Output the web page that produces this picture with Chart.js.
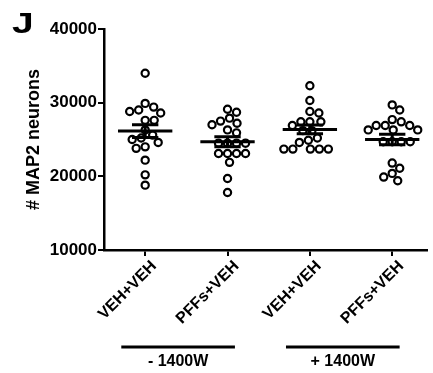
<!DOCTYPE html>
<html>
<head>
<style>
  html, body { margin: 0; padding: 0; background: #fff; }
  #wrap { position: relative; width: 433px; height: 373px; }
</style>
</head>
<body>
<div id="wrap"><canvas id="c" width="433" height="373"></canvas></div>
<script src="https://cdn.jsdelivr.net/npm/chart.js@4/dist/chart.umd.min.js"></script>
<script>
    // groups along the x axis
    const categories = ['VEH+VEH', 'PFFs+VEH', 'VEH+VEH', 'PFFs+VEH'];
    const bracketLabels = ['- 1400W', '+ 1400W'];
    const yTicks = [10000, 20000, 30000, 40000];

    // # MAP2 neurons per well
    const vehVehMinus = [34000, 29400, 29000, 29900, 28600, 28800, 27600, 27600, 26300, 25600,
                         25200, 24600, 23800, 24000, 25000, 22200, 20200, 18800];
    const pffVehMinus = [28700, 29100, 27900, 27200, 27000, 27500, 26300, 25900, 24500, 24500,
                         24500, 24500, 23100, 23100, 23100, 23100, 21900, 19700, 17800];
    const vehVehPlus  = [32300, 30300, 28800, 28600, 27400, 27400, 27400, 26900, 26200, 26200,
                         24900, 24600, 25200, 23700, 23700, 23700, 23700, 23700];
    const pffVehPlus  = [29700, 29000, 27400, 27700, 26900, 26900, 26300, 26300, 26300, 26900,
                         24700, 24700, 24700, 24700, 21800, 21100, 20400, 19900, 19400];

    const groups = [vehVehMinus, pffVehMinus, vehVehPlus, pffVehPlus];

    function mean(a){ return a.reduce((s, v) => s + v, 0) / a.length; }
    function sem(a){
        let m = mean(a);
        let sd = Math.sqrt(a.reduce((s, v) => s + (v - m) ** 2, 0) / (a.length - 1));
        return sd / Math.sqrt(a.length);
    }

    const FONT = '"Liberation Sans", Arial, sans-serif';

    // mean + SEM bars, group brackets and the panel letter
    const extras = {
        id: 'extras',
        afterDatasetsDraw(chart){
            const ctx = chart.ctx, x = chart.scales.x, y = chart.scales.y;
            ctx.save();
            ctx.strokeStyle = '#000';
            ctx.lineWidth = 3;
            groups.forEach((g, i) => {
                let m = mean(g), e = sem(g);
                let ym = y.getPixelForValue(m), yt = y.getPixelForValue(m + e), yb = y.getPixelForValue(m - e);
                ctx.beginPath();
                ctx.moveTo(x.getPixelForValue(i - 0.33), ym);
                ctx.lineTo(x.getPixelForValue(i + 0.33), ym);
                ctx.moveTo(x.getPixelForValue(i), yt);
                ctx.lineTo(x.getPixelForValue(i), yb);
                ctx.moveTo(x.getPixelForValue(i - 0.16), yt);
                ctx.lineTo(x.getPixelForValue(i + 0.16), yt);
                ctx.moveTo(x.getPixelForValue(i - 0.16), yb);
                ctx.lineTo(x.getPixelForValue(i + 0.16), yb);
                ctx.stroke();
            });
            ctx.restore();
        },
        afterDraw(chart){
            const ctx = chart.ctx, x = chart.scales.x;
            ctx.save();
            ctx.fillStyle = '#000';
            ctx.strokeStyle = '#000';
            ctx.lineWidth = 3;
            ctx.font = 'bold 16px ' + FONT;
            ctx.textAlign = 'center';
            ctx.textBaseline = 'middle';
            bracketLabels.forEach((lab, k) => {
                let a = x.getPixelForValue(2 * k - 0.29), b = x.getPixelForValue(2 * k + 1.09);
                ctx.beginPath();
                ctx.moveTo(a, 347);
                ctx.lineTo(b, 347);
                ctx.stroke();
                ctx.fillText(lab, (a + b) / 2, 362);
            });
            ctx.font = 'bold 30px ' + FONT;
            ctx.textAlign = 'left';
            ctx.textBaseline = 'alphabetic';
            ctx.translate(12, 33);
            ctx.scale(1.3, 1);
            ctx.fillText('J', 0, 0);
            ctx.restore();
        }
    };

    const chart = new Chart(document.getElementById('c').getContext('2d'), {
        type: 'scatter',
        data: {
            datasets: [{
                data: groups.flatMap((g, i) => g.map(v => ({x: i, y: v}))),
                pointStyle: 'circle',
                pointRadius: 3.6,
                pointBorderWidth: 2.2,
                borderColor: '#000',
                backgroundColor: '#fff'
            }]
        },
        options: {
            responsive: false,
            animation: false,
            events: [],
            layout: { padding: { top: 29, right: 0, left: 0, bottom: 0 } },
            plugins: { legend: { display: false }, tooltip: { enabled: false } },
            scales: {
                x: {
                    type: 'linear',
                    min: -0.5,
                    max: 3.42,
                    afterBuildTicks: s => { s.ticks = categories.map((_, i) => ({value: i})); },
                    afterFit: s => { s.height = 123; },
                    grid: { drawOnChartArea: false, color: '#000', lineWidth: 2, tickLength: 6 },
                    border: { color: '#000', width: 2.5 },
                    ticks: {
                        color: '#000',
                        font: { family: FONT, size: 16, weight: 'bold' },
                        minRotation: 45, maxRotation: 45,
                        padding: 1,
                        labelOffset: 9,
                        callback: v => categories[v]
                    }
                },
                y: {
                    min: 10000,
                    max: 40000,
                    afterBuildTicks: s => { s.ticks = yTicks.map(v => ({value: v})); },
                    afterFit: s => { s.width = 104; },
                    grid: { drawOnChartArea: false, color: '#000', lineWidth: 2, tickLength: 6 },
                    border: { color: '#000', width: 2.5 },
                    ticks: {
                        color: '#000',
                        font: { family: FONT, size: 17, weight: 'bold' },
                        padding: 1,
                        callback: v => String(v)
                    },
                    title: {
                        display: true,
                        text: '# MAP2 neurons',
                        color: '#000',
                        font: { family: FONT, size: 18, weight: 'bold' },
                        padding: { top: 23, bottom: 0 }
                    }
                }
            }
        },
        plugins: [extras]
    });

    // spread each group sideways so circles do not overlap (simple beeswarm)
    function swarm(vals, yScale, unitPx){
        let placed = [], out = new Array(vals.length);
        let order = vals.map((v, i) => i).sort((a, b) => vals[b] - vals[a]);
        const D = 9;
        order.forEach(i => {
            let py = yScale.getPixelForValue(vals[i]);
            for(let off = 0; off < 60; off += 0.5){
                let found = null;
                for(const cand of (off === 0 ? [0] : [off, -off])){
                    if(placed.every(p => Math.hypot(p.x - cand, p.y - py) >= D)){ found = cand; break; }
                }
                if(found !== null){
                    placed.push({x: found, y: py});
                    out[i] = found / unitPx;
                    break;
                }
            }
        });
        return out;
    }
    const unitPx = chart.scales.x.getPixelForValue(1) - chart.scales.x.getPixelForValue(0);
    chart.data.datasets[0].data = groups.flatMap((g, i) => {
        let offs = swarm(g, chart.scales.y, unitPx);
        return g.map((v, k) => ({x: i + offs[k], y: v}));
    });
    chart.update('none');
</script>
</body>
</html>
